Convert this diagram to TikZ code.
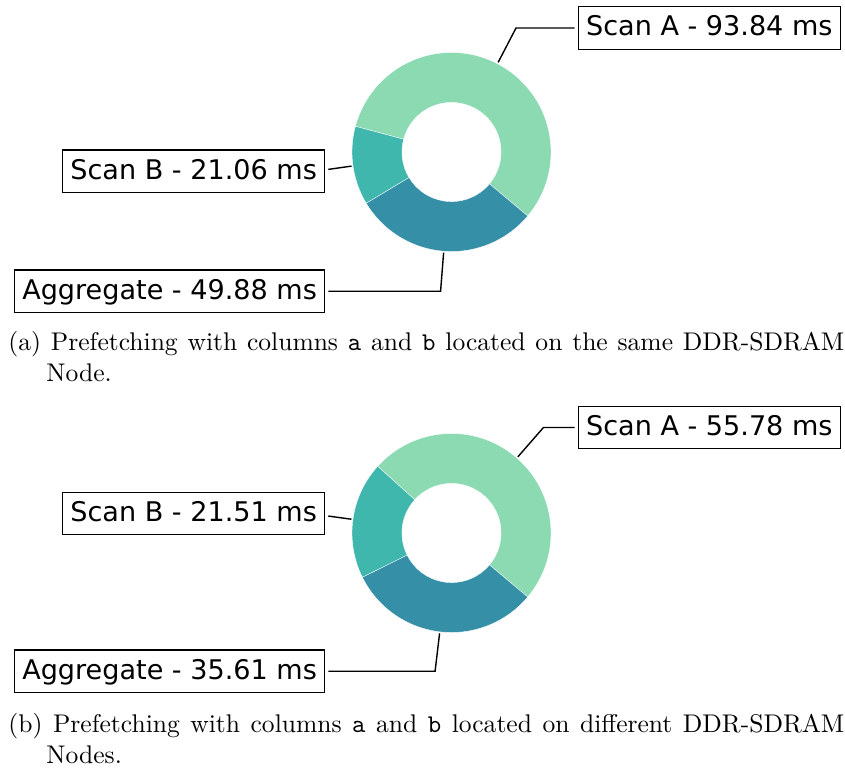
\documentclass[tikz,border=0pt]{standalone}
\usepackage{fontspec}
\usepackage{tikz}
\usetikzlibrary{calc}
\newfontfamily\labelfont{DejaVu Sans}
\definecolor{scanA}{HTML}{8BDAB2}
\definecolor{scanB}{HTML}{40B7AD}
\definecolor{aggr}{HTML}{348FA7}

\begin{document}
\begin{tikzpicture}[x=0.4286pt, y=0.4286pt,
    msbox/.style={draw=black, line width=0.5pt, fill=white, inner xsep=3.35pt, inner ysep=0pt,
        text height=12.5pt, text depth=5.7pt, font=\labelfont\fontsize{11.6}{13.9}\selectfont},
    leader/.style={draw=black, line width=0.6pt, shorten >=1.3pt},
    capt/.style={inner sep=0pt, text width=358.3pt, align=justify, font=\fontsize{10.95}{13.6}\selectfont}]
    \useasboundingbox (0,0) rectangle (845,769); % same size as the page

    % ring (a)
    \coordinate (ca) at (451.5,617);
    \foreach \s/\e/\c in {-40/165.02/scanA, 165.02/211.03/scanB, 211.03/320/aggr}
        \filldraw[fill=\c, draw=white, line width=0.15pt] ([shift={(\s:99.5)}]ca) arc[start angle=\s, end angle=\e, radius=99.5]
            -- ([shift={(\e:49.6)}]ca) arc[start angle=\e, end angle=\s, radius=49.6] -- cycle;
    \node[msbox, anchor=west] (scanAa) at (577.7,741) {Scan A - 93.84 ms};
    \node[msbox, anchor=east] (scanBa) at (325.3,597.7) {Scan B - 21.06 ms};
    \node[msbox, anchor=east] (aggra) at (325.3,477.8) {Aggregate - 49.88 ms};
    \coordinate (pAa) at ([shift={(62.51:101)}]ca);
    \coordinate (pBa) at ([shift={(188.03:101)}]ca);
    \coordinate (pGa) at ([shift={(265.52:101)}]ca);
    \draw[leader] (pAa) -- (intersection of ca--pAa and scanAa.west--scanAa.east) -- (scanAa.west);
    \draw[leader] (pBa) -- (intersection of ca--pBa and scanBa.north east--scanBa.south east);
    \draw[leader] (pGa) -- (intersection of ca--pGa and aggra.west--aggra.east) -- (aggra.east);
    \node[capt, anchor=base west] (capa) at (8,419) {\hangindent=16.3pt\hangafter=1 (a) Prefetching with columns
        \texttt{a} and \texttt{b} located on the same DDR-SDRAM\linebreak Node.\par};

    % ring (b)
    \coordinate (cb) at (451.5,236);
    \foreach \s/\e/\c in {-40/137.86/scanA, 137.86/206.45/scanB, 206.45/320/aggr}
        \filldraw[fill=\c, draw=white, line width=0.15pt] ([shift={(\s:99.5)}]cb) arc[start angle=\s, end angle=\e, radius=99.5]
            -- ([shift={(\e:49.6)}]cb) arc[start angle=\e, end angle=\s, radius=49.6] -- cycle;
    \node[msbox, anchor=west] (scanAb) at (577.7,341.5) {Scan A - 55.78 ms};
    \node[msbox, anchor=east] (scanBb) at (325.3,255.5) {Scan B - 21.51 ms};
    \node[msbox, anchor=east] (aggrb) at (325.3,97.8) {Aggregate - 35.61 ms};
    \coordinate (pAb) at ([shift={(48.93:101)}]cb);
    \coordinate (pBb) at ([shift={(172.16:101)}]cb);
    \coordinate (pGb) at ([shift={(263.23:101)}]cb);
    \draw[leader] (pAb) -- (intersection of cb--pAb and scanAb.west--scanAb.east) -- (scanAb.west);
    \draw[leader] (pBb) -- (intersection of cb--pBb and scanBb.north east--scanBb.south east);
    \draw[leader] (pGb) -- (intersection of cb--pGb and aggrb.west--aggrb.east) -- (aggrb.east);
    \node[capt, anchor=base west] (capb) at (8,37) {\hangindent=16.3pt\hangafter=1 (b) Prefetching with columns
        \texttt{a} and \texttt{b} located on different DDR-SDRAM\linebreak Nodes.\par};
\end{tikzpicture}
\end{document}
